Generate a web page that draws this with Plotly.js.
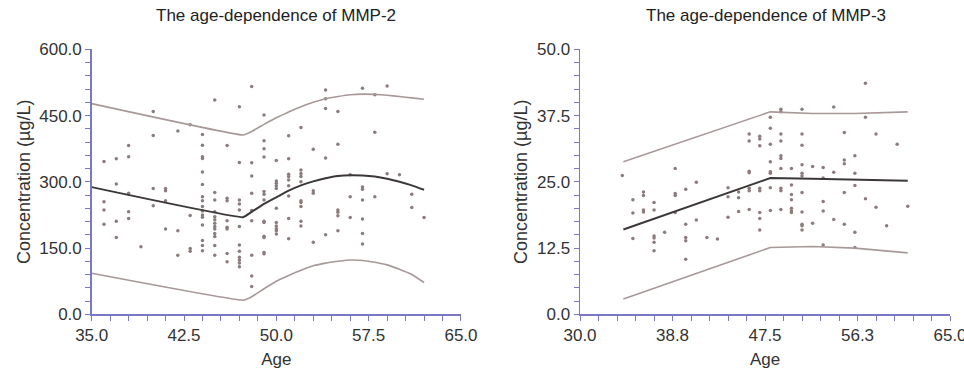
<!DOCTYPE html>
<html>
<head>
<meta charset="utf-8">
<script src="https://cdn.plot.ly/plotly-3.0.1.min.js"></script>
<style>html,body{margin:0;padding:0;background:#fff;}#chart{width:964px;height:372px;}</style>
</head>
<body>
<div id="chart"></div>
<script>
// ---- MMP-2 data (age groups and concentrations, µg/L) ----
const mmp2Ages = [36,37,38,39,40,41,42,43,44,45,46,47,48,49,50,51,52,53,54,55,56,57,58,59,60,61,62];
const mmp2Groups = [
  [346,255,236,204],
  [352,295,211,174],
  [382,357,274,232,217],
  [153],
  [459,405,285,246],
  [285,280,257,193],
  [415,189,134],
  [429,224,149,143],
  [407,383,357,353,322,294,266,257,244,234,225,220,202,167,156,144],
  [485,276,259,232,221,214,206,199,193,183,176,156,134],
  [382,263,257,212,197,193,138,119],
  [470,344,259,250,236,199,157,143,129,123,116,108],
  [516,343,313,274,235,212,134,87,63],
  [451,393,375,356,278,272,259,211,208,177,174,140,137],
  [348,302,297,291,285,240,208,200,194,189,182],
  [404,352,317,312,304,291,268,217,171],
  [423,327,319,312,300,257,253,244,211,200],
  [374,280,274,163],
  [508,488,466,354,180],
  [459,385,236,231,223,189],
  [316,266,219],
  [512,288,283,259,216,183,159],
  [497,412,266],
  [517,318],
  [316],
  [272,242],
  [219]
];
const mmp2FitAge = [35,47.3,48,49,50,51,52,53,54,55,56,57,58,59,60,61,62];
const mmp2Fit    = [288,220,232,250,265,280,292,301,308,313,315,314.5,312,307,300,292,282];
const mmp2Upper  = [477,406,414,430,445,458,470,480,488,493,497,498.5,498,496,493,490,487];
const mmp2Lower  = [93,32,40,58,75,88,100,110,116,120,123,122,118,112,102,90,72];

// ---- MMP-3 data ----
const mmp3Ages = [34,35,36,37,38,39,40,41,42,43,44,45,46,47,48,49,50,51,52,53,54,55,56,57,58,59,60,61];
const mmp3Groups = [
  [26.2],
  [21.6,19.1,14.3],
  [23.1,22.4,19.7,19.3],
  [21.1,19.7,14.8,14.4,13.6,12.0],
  [15.5],
  [27.5,22.8,22.4,19.2],
  [23.6,17.0,14.5,13.9,10.4],
  [24.9,17.8],
  [14.5],
  [14.2],
  [23.9,22.2,18.3],
  [23.1,22.0,19.4],
  [34.0,32.7,27.0,26.7,23.8,23.3,19.8],
  [33.6,33.1,31.8,23.8,23.3,19.2,18.1,15.9],
  [37.2,35.1,32.1,28.8,26.9,26.6,23.9,19.6],
  [38.7,38.2,34.0,32.7,29.9,29.4,27.5,23.8,23.3,19.8],
  [27.5,24.4,22.6,21.6,20.0,19.5,19.2],
  [38.7,34.0,31.9,28.2,26.6,26.1,23.0,19.3,17.0,16.7,15.9],
  [27.9,17.2],
  [27.7,25.7,21.3,19.5,13.1],
  [39.1,26.8,17.9],
  [34.3,29.1,28.4,23.0,17.0],
  [29.9,26.6,24.3,15.5,12.6],
  [43.6,37.2,21.8],
  [34.0,20.2],
  [16.7],
  [32.1],
  [20.4]
];
const mmp3FitAge = [34.1,48,52,56,61];
const mmp3Fit    = [16.0,25.7,25.6,25.4,25.2];
const mmp3Upper  = [28.8,38.2,37.9,37.9,38.2];
const mmp3Lower  = [2.9,12.6,12.8,12.5,11.6];

const titles = ['The age-dependence of MMP-2','The age-dependence of MMP-3'];
const yTitle = 'Concentration (µg/L)';
const xTitle = 'Age';
const mmp2Ticks = [35,42.5,50,57.5,65];
const mmp3Ticks = [30,38.75,47.5,56.25,65];

function flatten(ages, groups){
  const x=[], y=[];
  ages.forEach((a,i)=>groups[i].forEach(v=>{x.push(a); y.push(v);}));
  return {x,y};
}
const p2 = flatten(mmp2Ages, mmp2Groups);
const p3 = flatten(mmp3Ages, mmp3Groups);

const ptColor = '#8c7c7c', fitColor = '#3c3838', bandColor = '#a89898';
const mk = {size:3.5, color:ptColor};
const sp = {shape:'spline', smoothing:0.3};

const traces = [
  {x:p2.x, y:p2.y, mode:'markers', type:'scatter', marker:mk, xaxis:'x', yaxis:'y'},
  {x:mmp2FitAge, y:mmp2Upper, mode:'lines', line:Object.assign({color:bandColor,width:1.6},sp), xaxis:'x', yaxis:'y'},
  {x:mmp2FitAge, y:mmp2Lower, mode:'lines', line:Object.assign({color:bandColor,width:1.6},sp), xaxis:'x', yaxis:'y'},
  {x:mmp2FitAge, y:mmp2Fit, mode:'lines', line:Object.assign({color:fitColor,width:2},sp), xaxis:'x', yaxis:'y'},
  {x:p3.x, y:p3.y, mode:'markers', type:'scatter', marker:mk, xaxis:'x2', yaxis:'y2'},
  {x:mmp3FitAge, y:mmp3Upper, mode:'lines', line:{color:bandColor,width:1.6}, xaxis:'x2', yaxis:'y2'},
  {x:mmp3FitAge, y:mmp3Lower, mode:'lines', line:{color:bandColor,width:1.6}, xaxis:'x2', yaxis:'y2'},
  {x:mmp3FitAge, y:mmp3Fit, mode:'lines', line:{color:fitColor,width:2}, xaxis:'x2', yaxis:'y2'}
];

const axCol = '#7a78c4';
const fam = 'Liberation Sans, Arial, sans-serif';
const font = {family:fam, size:17, color:'#333'};
function xa(domain, range, ticks, minor, anchor){
  return {domain, range, tickmode:'array', tickvals:ticks, tickformat:'.1f', showgrid:false, zeroline:false,
    showline:true, linecolor:axCol, linewidth:1.5, ticks:'outside', ticklen:5, tickcolor:axCol, tickwidth:1,
    minor:{dtick:minor, tick0:range[0], ticks:'outside', ticklen:5, tickcolor:axCol, tickwidth:1, showgrid:false},
    ticklabeloverflow:'allow',
    tickfont:font, anchor, title:{text:xTitle, font:{family:fam,size:17,color:'#333'}, standoff:9}, fixedrange:true};
}
function ya(range, dtick, minor, anchor){
  return {domain:[0.155,0.8675], range, tick0:0, dtick, tickformat:'.1f', showgrid:false, zeroline:false,
    showline:true, linecolor:axCol, linewidth:1.5, ticks:'outside', ticklen:5, tickcolor:axCol, tickwidth:1,
    minor:{dtick:minor, tick0:0, ticks:'outside', ticklen:5, tickcolor:axCol, tickwidth:1, showgrid:false},
    ticklabeloverflow:'allow',
    tickfont:font, anchor, title:{text:yTitle, font:{family:fam,size:18,color:'#333'}, standoff:4}, fixedrange:true};
}

const layout = {
  width:964, height:372, showlegend:false,
  paper_bgcolor:'#fff', plot_bgcolor:'#fff',
  margin:{l:0,r:0,t:0,b:0},
  xaxis: xa([0.0951,0.4782],[35,65],mmp2Ticks,1.5,'y'),
  yaxis: ya([0,600],150,30,'x'),
  xaxis2: xa([0.6017,0.9855],[30,65],mmp3Ticks,1.75,'y2'),
  yaxis2: ya([0,50],12.5,2.5,'x2'),
  annotations:[
    {text:titles[0], x:0.2866, y:1-16/372, xref:'paper', yref:'paper', showarrow:false, xanchor:'center', yanchor:'middle', font:{family:fam,size:17,color:'#222'}},
    {text:titles[1], x:0.7946, y:1-16/372, xref:'paper', yref:'paper', showarrow:false, xanchor:'center', yanchor:'middle', font:{family:fam,size:17,color:'#222'}}
  ]
};

Plotly.newPlot('chart', traces, layout, {displayModeBar:false, staticPlot:true});
</script>
</body>
</html>
